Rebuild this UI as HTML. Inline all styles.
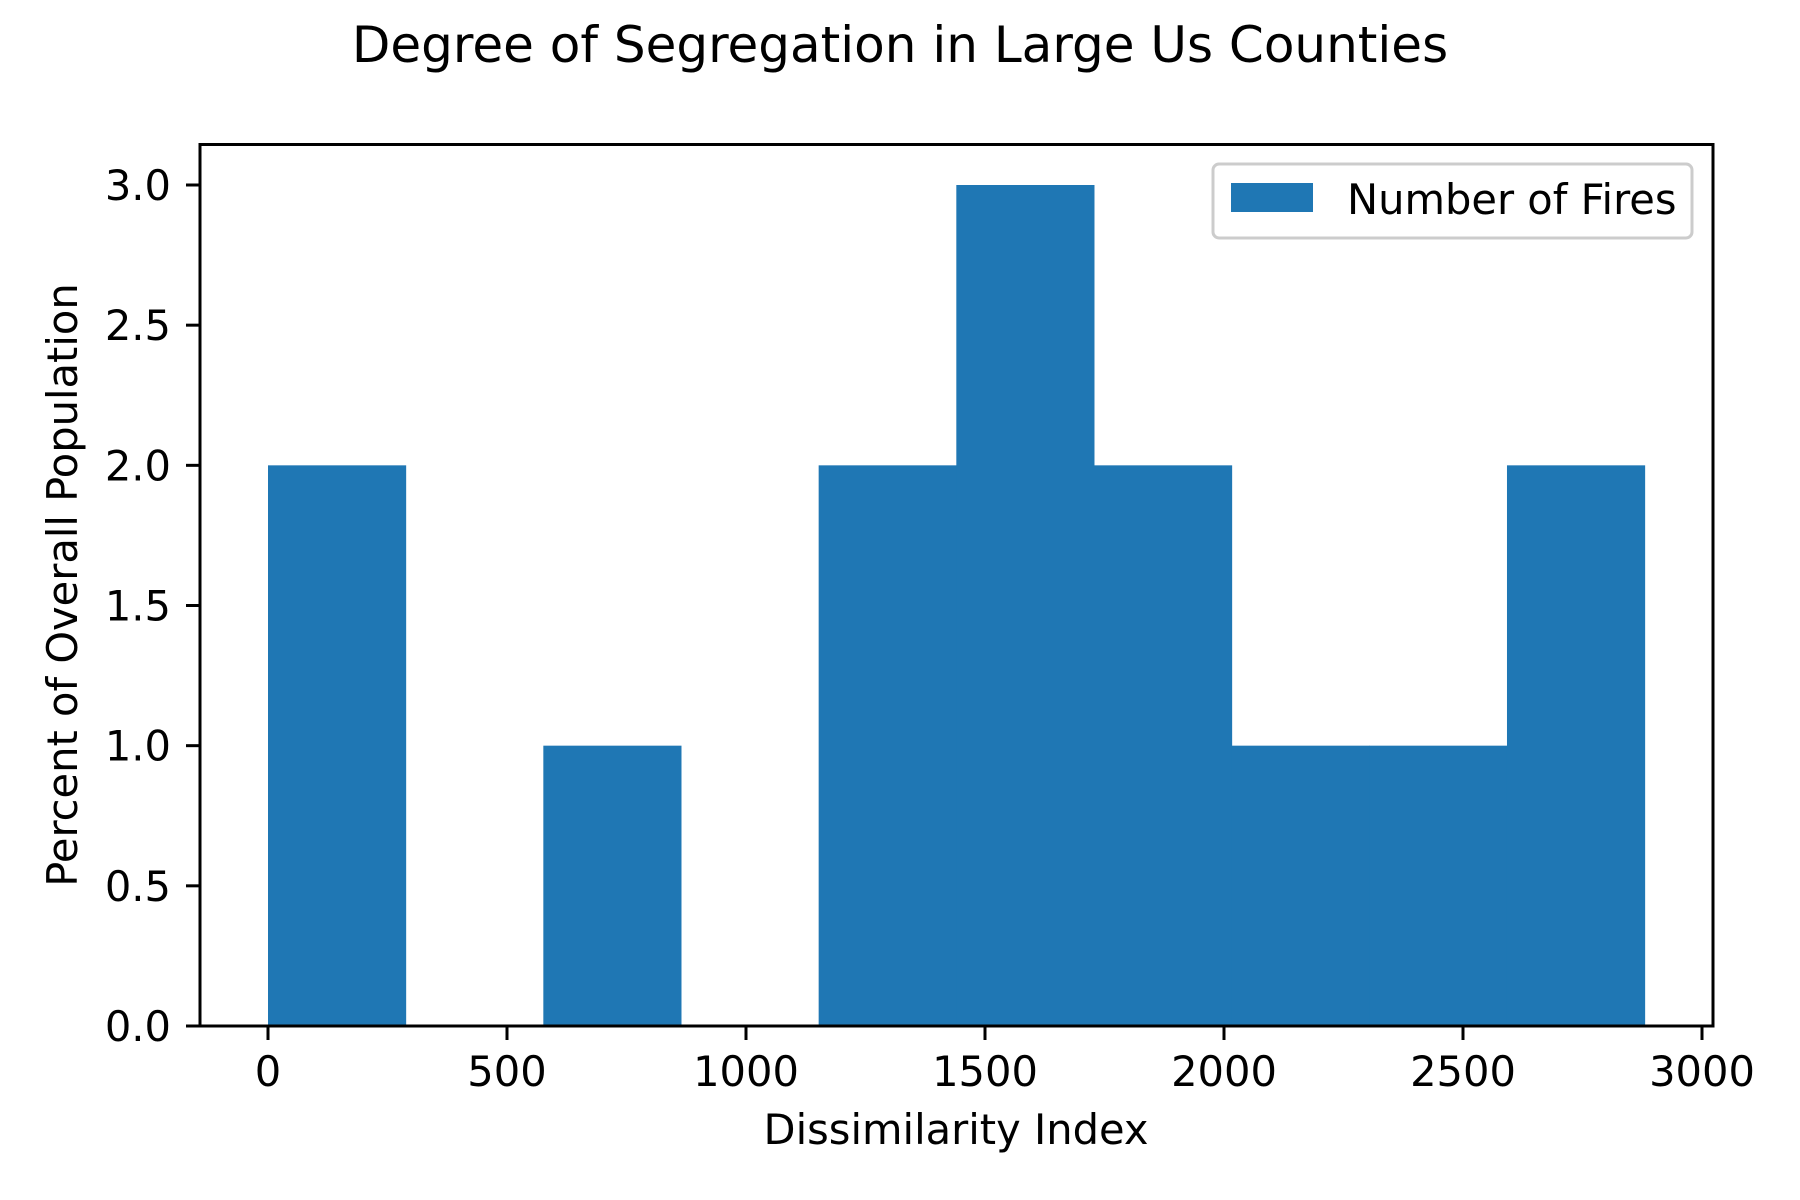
<!DOCTYPE html>
<html><head><meta charset="utf-8"><style>
html,body{margin:0;padding:0;background:#fff;}
svg{display:block;font-family:"DejaVu Sans","Liberation Sans",sans-serif;}
</style></head><body>
<svg id="chart" width="1800" height="1200" viewBox="0 0 1800 1200">
<rect width="1800" height="1200" fill="#fff"/>
<text x="900" y="62" font-size="50" text-anchor="middle">Degree of Segregation in Large Us Counties</text>
<g id="bars"></g>
<g id="xticks"></g>
<g id="yticks"></g>
<rect x="200" y="144.5" width="1513" height="881.5" fill="none" stroke="#000" stroke-width="3"/>
<text x="956" y="1144" font-size="41.6" text-anchor="middle">Dissimilarity Index</text>
<text x="0" y="0" font-size="41.6" text-anchor="middle" transform="translate(77,585) rotate(-90)">Percent of Overall Population</text>
<g>
<rect x="1213" y="164" width="479" height="74" rx="6" fill="#fff" fill-opacity="0.8" stroke="#ccc" stroke-width="3"/>
<rect x="1231" y="183" width="82" height="29" fill="#1f77b4"/>
<text x="1347" y="214" font-size="41.6">Number of Fires</text>
</g>
</svg>
<script>
const binEdges = [0, 288, 576, 864, 1152, 1440, 1728, 2016, 2304, 2592, 2880];
const counts = [2, 0, 1, 0, 2, 3, 2, 1, 1, 2];
const xTickValues = [0, 500, 1000, 1500, 2000, 2500, 3000];
const yTickValues = [0, 0.5, 1.0, 1.5, 2.0, 2.5, 3.0];
const yTickLabels = ["0.0", "0.5", "1.0", "1.5", "2.0", "2.5", "3.0"];

const NS = "http://www.w3.org/2000/svg";
const x = v => 268 + v * (1434 / 3000);
const y = v => 1026 - v * (841 / 3);

const bars = document.getElementById('bars');
counts.forEach((c, i) => {
  if (c <= 0) return;
  const r = document.createElementNS(NS, 'rect');
  r.setAttribute('x', x(binEdges[i]));
  r.setAttribute('width', x(binEdges[i + 1]) - x(binEdges[i]) + 0.5);
  r.setAttribute('y', y(c));
  r.setAttribute('height', y(0) - y(c));
  r.setAttribute('fill', '#1f77b4');
  
  
  bars.appendChild(r);
});

const xg = document.getElementById('xticks');
xTickValues.forEach(v => {
  const l = document.createElementNS(NS, 'line');
  l.setAttribute('x1', x(v)); l.setAttribute('x2', x(v));
  l.setAttribute('y1', 1026); l.setAttribute('y2', 1040);
  l.setAttribute('stroke', '#000'); l.setAttribute('stroke-width', 3);
  
  
  xg.appendChild(l);
  const t = document.createElementNS(NS, 'text');
  t.setAttribute('x', x(v)); t.setAttribute('y', 1086);
  t.setAttribute('font-size', 41.6); t.setAttribute('text-anchor', 'middle');
  t.textContent = String(v);
  
  
  xg.appendChild(t);
});

const yg = document.getElementById('yticks');
yTickValues.forEach((v, i) => {
  const l = document.createElementNS(NS, 'line');
  l.setAttribute('x1', 186); l.setAttribute('x2', 200);
  l.setAttribute('y1', y(v)); l.setAttribute('y2', y(v));
  l.setAttribute('stroke', '#000'); l.setAttribute('stroke-width', 3);
  
  
  yg.appendChild(l);
  const t = document.createElementNS(NS, 'text');
  t.setAttribute('x', 171); t.setAttribute('y', y(v) + 15);
  t.setAttribute('font-size', 41.6); t.setAttribute('text-anchor', 'end');
  t.textContent = yTickLabels[i];
  
  
  yg.appendChild(t);
});
</script>
</body></html>
